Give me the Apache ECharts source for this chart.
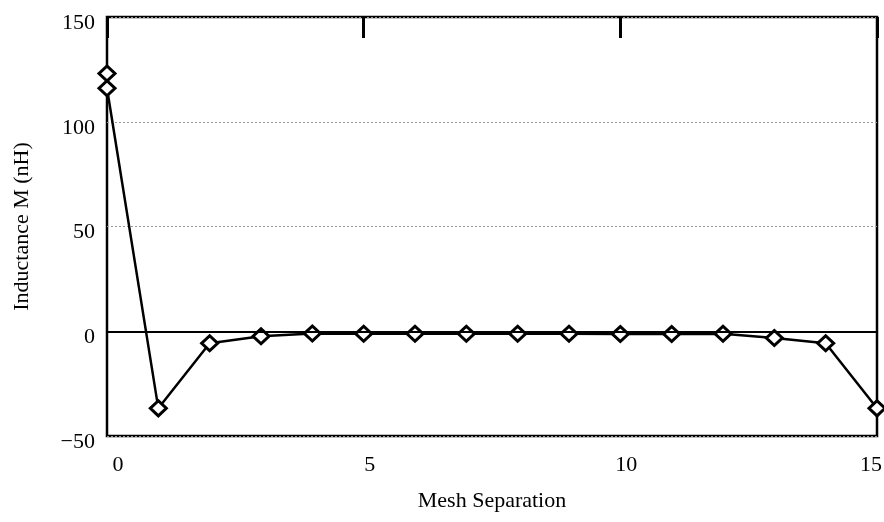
<!DOCTYPE html>
<html>
<head>
<meta charset="utf-8">
<script src="https://cdn.jsdelivr.net/npm/echarts@6/dist/echarts.min.js"></script>
<style>html,body{margin:0;padding:0;background:#fff;overflow:hidden;}#c{width:884px;height:522px;}</style>
</head>
<body>
<div id="c"></div>
<script>
var separation = [0, 0, 1, 2, 3, 4, 5, 6, 7, 8, 9, 10, 11, 12, 13, 14, 15];
var inductance = [123, 116, -36.8, -5.7, -2.4, -1.1, -1.2, -1.2, -1.2, -1.2, -1.2, -1.3, -1.3, -1.2, -3.2, -5.7, -36.8];
var yTicks = [-50, 0, 50, 100, 150];
var xTicks = [0, 5, 10, 15];

var pts = separation.map(function (x, i) { return [x, inductance[i]]; });
var font = 'Liberation Serif';
var chart = echarts.init(document.getElementById('c'), null, {renderer: 'canvas'});
chart.setOption({
  animation: false,
  backgroundColor: '#fff',
  grid: {left: 107, right: 7, top: 17, bottom: 86, show: true, borderColor: '#000', borderWidth: 2.5,
    backgroundColor: 'transparent', containLabel: false, outerBoundsMode: 'none'},
  xAxis: [{
    type: 'value', min: 0, max: 15, interval: 5, position: 'bottom',
    name: 'Mesh Separation', nameLocation: 'middle', nameGap: 54,
    nameTextStyle: {fontFamily: font, fontSize: 22, color: '#000'},
    axisLine: {show: false}, axisTick: {show: false}, splitLine: {show: false},
    axisLabel: {fontFamily: font, fontSize: 22, color: '#000', margin: 18,
      formatter: function (v) {
        if (xTicks.indexOf(v) < 0) return '';
        return v === 15 ? '{e|' + v + '}' : (v === 0 ? '{z|' + v + '}' : '{a|' + v + '}');
      },
      rich: {
        a: {fontFamily: font, fontSize: 22, color: '#000', padding: [0, 0, 0, 12]},
        z: {fontFamily: font, fontSize: 22, color: '#000', padding: [0, 0, 0, 22]},
        e: {fontFamily: font, fontSize: 22, color: '#000', padding: [0, 12, 0, 0]}
      }}
  }, {
    type: 'value', min: 0, max: 15, interval: 5, position: 'top',
    axisLine: {show: false}, axisLabel: {show: false}, splitLine: {show: false},
    axisTick: {show: true, inside: true, length: 21, lineStyle: {color: '#000', width: 3}}
  }],
  yAxis: {
    type: 'value', min: -50, max: 150, interval: 50,
    name: 'Inductance M (nH)', nameLocation: 'middle', nameGap: 74, nameRotate: 90,
    nameTextStyle: {fontFamily: font, fontSize: 22, color: '#000'},
    axisLine: {show: false}, axisTick: {show: false},
    splitLine: {show: true, lineStyle: {color: '#999', type: [2, 2], width: 1}},
    axisLabel: {fontFamily: font, fontSize: 22, color: '#000', margin: 12, verticalAlign: 'top', lineHeight: 12,
      formatter: function (v) { return yTicks.indexOf(v) >= 0 ? String(v).replace('-', '\u2212') : ''; }}
  },
  series: [{
    type: 'line', data: pts, clip: true,
    lineStyle: {color: '#000', width: 2.5},
    symbol: 'path://M0,-1L1,0L0,1L-1,0Z', symbolSize: [16, 15], showAllSymbol: true,
    itemStyle: {color: '#fff', borderColor: '#000', borderWidth: 3},
    markLine: {silent: true, symbol: 'none', label: {show: false},
      lineStyle: {color: '#000', type: 'solid', width: 2}, data: [{yAxis: 0}]},
    z: 3
  }]
});
</script>
</body>
</html>
